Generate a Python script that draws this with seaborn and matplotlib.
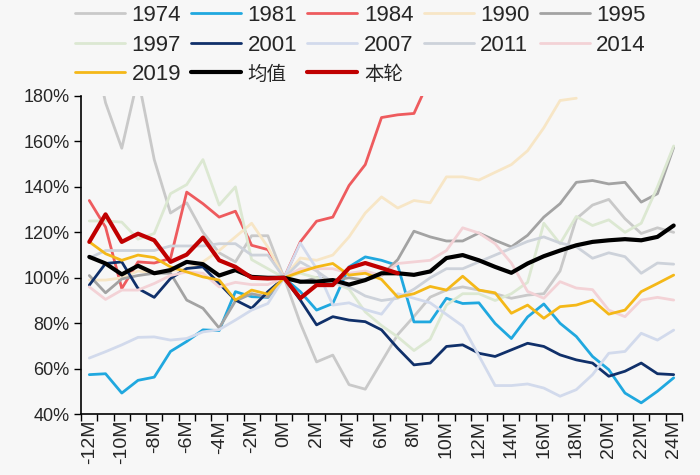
import numpy as np
import pandas as pd
import matplotlib
matplotlib.use('Agg')
import matplotlib.pyplot as plt
import seaborn as sns

nan = np.nan
months = [f'{m}M' for m in range(-12, 25)]

# values in %, one per month from -12M to 24M
s1974 = [210, 177, 157, 188, 152, 128.5, 133, 120, 111, 107, 118.5, 118.5, 100, 80, 63, 66, 53, 51, 63, 75, 83, 91.5,
         94.6, 96, 94.6, 93, 91, 92.4, 93, 103, 126, 132, 134.5, 126, 119.5, 122, 120]
s1981 = [57.4, 57.8, 49.3, 54.9, 56.3, 67.6, 72, 77.1, 76.8, 93.9, 91.7, 91.4, 100, 93.9, 85.8, 88.7, 104.8, 109.2,
         107.7, 105.4, 80.6, 80.6, 91, 88.7, 89, 79.9, 73.3, 82.8, 88.5, 80, 74.2, 65.4, 59.6, 49.3, 45, 50.1, 56]
s1984 = [134, 122.3, 95.3, 107, 106.5, 108.5, 137.7, 132.6, 126.7, 129.3, 114.3, 112.4, 100, 115.8, 124.9, 126.7,
         140.6, 149.8, 170.5, 171.7, 172.3, 188] + [nan] * 15
s1990 = [99, 99, 100, 103, 102, 103, 104, 107, 112, 118, 124, 113.5, 100, 108.7, 107.7, 110, 118, 128.5, 135.6, 130.7,
         134, 133, 144.4, 144.4, 143, 146.4, 149.8, 155.9, 166, 178, 179] + [nan] * 6
s1995 = [101, 93.4, 99.5, 101, 102, 102, 90.2, 86.6, 77.9, 89.8, 93, 91.5, 100, 98, 100, 99, 100, 99, 101, 108,
         120.5, 118, 116.2, 116.2, 119.7, 116.5, 113.6, 118.7, 126.7, 132.6, 142, 142.8, 141.3, 142, 133.3, 137, 157.4]
s1997 = [125, 125, 124.5, 117, 119.5, 137, 141, 152, 132, 140, 108, 104, 100, 102, 100, 98, 95, 85, 79, 74, 68, 73,
         88, 93, 93, 90, 93, 98, 124, 115, 127, 123, 125.5, 120, 124, 140, 158]
s2001 = [96.8, 106.3, 107, 95.3, 91.4, 99.7, 104.1, 104.8, 97.5, 90.2, 86.6, 93.9, 100, 90.2, 79.3, 82.9, 81.4, 80.7,
         77.1, 69, 61.7, 62.5, 69.8, 70.5, 66.8, 65.4, 68.3, 71.2, 69.8, 66.1, 63.9, 62.5, 56.7, 58.9, 62.5, 57.8, 57.4]
s2007 = [64.7, 67.5, 70.5, 73.8, 74, 72.6, 73.3, 76.2, 77.2, 81.4, 85.8, 88.7, 100, 115.3, 104, 88, 89, 86, 84, 93,
         91, 89, 83.9, 78.8, 65.7, 52.6, 52.6, 53.3, 51.5, 47.9, 50.8, 57.4, 66.8, 67.6, 75.6, 72.6, 77]
s2011 = [108.7, 112, 112, 112, 112, 114, 114, 114, 115, 115, 110, 110, 100, 107, 103, 98, 96, 92, 90, 91, 95, 100,
         104, 104, 107, 110, 113, 116, 118, 115.3, 113.7, 108.6, 111, 109.3, 102, 106.5, 106]
s2014 = [96, 90.5, 94.6, 94.6, 97.5, 101, 102.6, 102, 96, 98, 97, 97, 100, 104, 104, 104, 102, 103, 101, 106.3, 107,
         107.7, 112, 122, 119.7, 115, 106.5, 94, 91, 98.3, 95.5, 94.8, 85.8, 82.9, 90.2, 91.4, 90.2]
s2019 = [115.8, 110.6, 107.7, 110, 108.9, 104.8, 102.6, 100.4, 99, 90.2, 94.6, 92.8, 100, 102.6, 104.8, 106.3, 101.2,
         102, 99.3, 91.5, 93, 96.2, 94.6, 100.7, 94.6, 93.4, 84.4, 88, 82.2, 87.3, 88, 90.2, 84, 85.8, 93.9, 97.5, 101.2]
s_avg = [109.2, 106.3, 101.5, 105.3, 102, 103.4, 107, 106, 101, 103.4, 100.4, 100, 100, 98.3, 98.3, 99, 97, 99,
         102, 102, 101.3, 102.8, 108.7, 110, 107.7, 104.8, 102.2, 106.3, 109.5, 112, 114.3, 115.8, 116.5, 117, 116.5,
         118, 123]
s_now = [115.8, 127.9, 115.8, 119.4, 116.5, 107, 110.2, 117.7, 107.7, 104.8, 100, 99.7, 100, 91, 96.8, 96.8, 104.3,
         106.5, 104.3, 102] + [nan] * 17

series = [
    ('1974', s1974, '#c9c9c9', 2.0),
    ('1981', s1981, '#20a8df', 2.0),
    ('1984', s1984, '#ee5b5e', 2.0),
    ('1990', s1990, '#f7e6c6', 2.0),
    ('1995', s1995, '#a3a3a3', 2.0),
    ('1997', s1997, '#dce8d2', 2.0),
    ('2001', s2001, '#10306a', 2.0),
    ('2007', s2007, '#d2daec', 2.0),
    ('2011', s2011, '#cdd2da', 2.0),
    ('2014', s2014, '#f3d2d6', 2.0),
    ('2019', s2019, '#f4b818', 2.0),
    ('均值', s_avg, '#000000', 3.0),
    ('本轮', s_now, '#c00000', 3.0),
]

bg = '#f7f7f7'
sns.set_theme(style='ticks')
plt.rcParams['font.family'] = ['Liberation Sans', 'Noto Sans CJK SC']
plt.rcParams['axes.unicode_minus'] = False

fig = plt.figure(figsize=(7, 4.75), dpi=100, facecolor=bg)
ax = fig.add_axes([0.116, 0.128, 0.858, 0.670], facecolor=bg)

x = np.arange(len(months))
handles = {}
for name, vals, color, lw in series:
    df = pd.DataFrame({'x': x, 'y': vals}).dropna()
    sns.lineplot(data=df, x='x', y='y', ax=ax, color=color, linewidth=lw, label=name, legend=False)
    handles[name] = ax.lines[-1]

ax.set_xlim(-0.5, len(months) - 0.5)
ax.set_ylim(40, 180)
ax.set_yticks(range(40, 181, 20))
ax.set_yticklabels([f'{v}%' for v in range(40, 181, 20)], fontsize=13)
ax.set_xticks(x[::2])
ax.set_xticklabels(months[::2], rotation=90, fontsize=14)
ax.set_xticks(np.arange(-0.5, len(months)), minor=True)
ax.tick_params(axis='x', which='major', length=0, pad=4)
ax.tick_params(axis='x', which='minor', length=5, width=1, color='black', direction='out')
ax.tick_params(axis='y', length=5, width=1, color='black', direction='out')
ax.set_xlabel('')
ax.set_ylabel('')
for side in ['top', 'right']:
    ax.spines[side].set_visible(False)
for side in ['left', 'bottom']:
    ax.spines[side].set_color('black')
    ax.spines[side].set_linewidth(1.2)

# column-major order so the legend reads row by row
order = ['1974', '1997', '2019', '1981', '2001', '均值', '1984', '2007', '本轮', '1990', '2011', '1995', '2014']
leg = fig.legend([handles[k] for k in order], order, ncol=5, loc='upper left', bbox_to_anchor=(0.107, 0.989),
                 frameon=False, fontsize=16, handlelength=2.25, handletextpad=0.3, columnspacing=0.45,
                 labelspacing=0.38, borderpad=0.0, borderaxespad=0.0)
for t in leg.get_texts():
    if t.get_text() in ('均值', '本轮'):
        t.set_fontsize(14)

fig.savefig('out.png', dpi=100, facecolor=bg)
